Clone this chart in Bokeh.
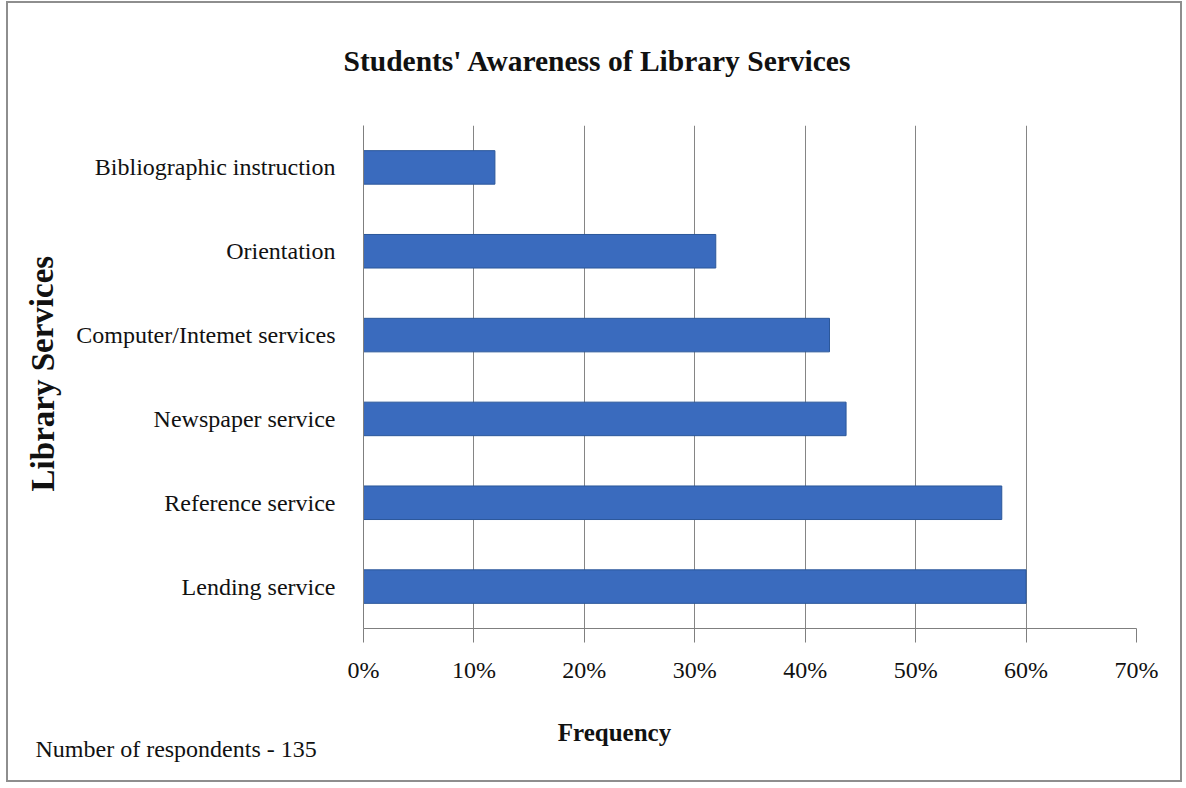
from bokeh.plotting import figure
from bokeh.models import FixedTicker, PrintfTickFormatter, Title, Label
from bokeh.embed import file_html
from bokeh.resources import INLINE

# ---- data ----
services = ["Lending service", "Reference service", "Newspaper service",
            "Computer/Intemet services", "Orientation", "Bibliographic instruction"]
awareness_pct = [60.0, 57.8, 43.7, 42.2, 31.9, 11.9]
x_ticks = [0, 10, 20, 30, 40, 50, 60, 70]
title_text = "Students' Awareness of Library Services"
x_label = "Frequency"
y_label = "Library  Services"
note_text = "Number of respondents -  135"

positions = [i + 0.5 for i in range(len(services))]

SERIF = "Liberation Serif"

p = figure(width=1172, height=777, output_backend="svg", toolbar_location=None,
           x_range=(0, 70), y_range=(0, len(services)),
           min_border_left=355, min_border_right=44, min_border_top=122,
           min_border_bottom=152)
p.margin = (3, 6, 8, 8)
p.styles = {"outline": "2px solid #8e8e8e"}
p.outline_line_color = None

p.hbar(y=positions, right=awareness_pct, left=0, height=0.4,
       fill_color="#3A6BBE", line_color="#2B579A", line_width=1)

xa = p.xaxis[0]
xa.ticker = FixedTicker(ticks=x_ticks)
xa.formatter = PrintfTickFormatter(format="%d%%")
xa.axis_line_color = "#7f7f7f"
xa.major_tick_line_color = "#7f7f7f"
xa.major_tick_out = 14
xa.major_tick_in = 0
xa.minor_tick_line_color = None
xa.major_label_text_font = SERIF
xa.major_label_text_font_size = "24px"
xa.major_label_text_color = "#111111"
xa.major_label_standoff = 14

ya = p.yaxis[0]
ya.ticker = FixedTicker(ticks=positions)
ya.major_label_overrides = {pos: name for pos, name in zip(positions, services)}
ya.axis_line_color = "#7f7f7f"
ya.major_tick_line_color = None
ya.minor_tick_line_color = None
ya.major_label_text_font = SERIF
ya.major_label_text_font_size = "24px"
ya.major_label_text_color = "#111111"
ya.major_label_standoff = 22

p.xgrid.ticker = FixedTicker(ticks=x_ticks)
p.xgrid.grid_line_color = "#858585"
p.ygrid.grid_line_color = None

# spacer between frame and the main title
p.add_layout(Title(text=" ", standoff=46, text_font_size="1px"), "above")
p.add_layout(Title(text=title_text, align="left", offset=-20, standoff=0,
                   text_font=SERIF, text_font_size="29.5px", text_font_style="bold",
                   text_color="#111111"), "above")

def side_label(x, y, text, size, bold=False, angle=0.0, align="center"):
    return Label(x=x, y=y, x_units="canvas", y_units="canvas", text=text,
                 text_font=SERIF, text_font_size=size,
                 text_font_style="bold" if bold else "normal", angle=angle,
                 text_align=align, text_baseline="middle", text_color="#111111")

p.add_layout(side_label(606, 729, x_label, "25px", bold=True), "below")
p.add_layout(side_label(27, 745, note_text, "24px", align="left"), "below")
p.add_layout(side_label(34, 366, y_label, "33px", bold=True, angle=1.5708), "left")

open("out.html", "w").write(file_html(p, INLINE))
